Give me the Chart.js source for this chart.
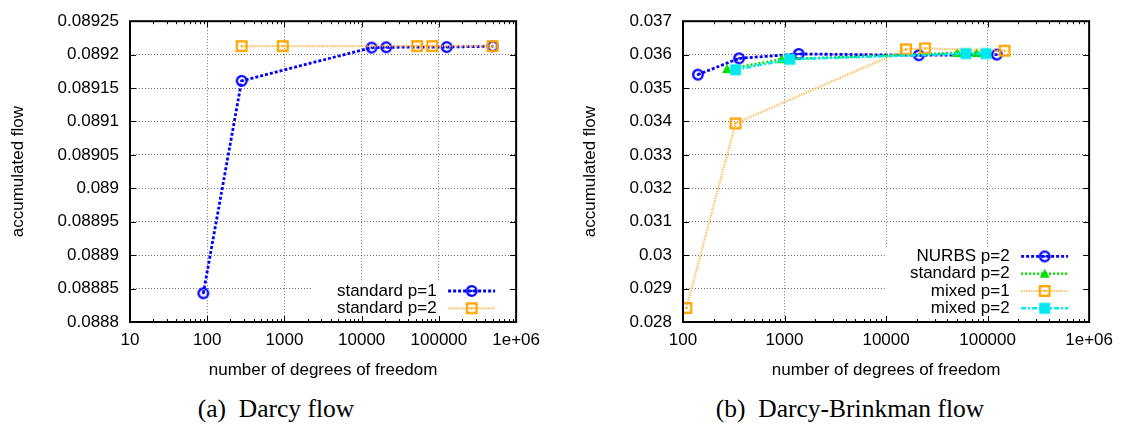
<!DOCTYPE html>
<html>
<head>
<meta charset="utf-8">
<script src="https://cdn.jsdelivr.net/npm/chart.js@4.4.1/dist/chart.umd.min.js"></script>
<style>
  html, body { margin: 0; padding: 0; background: #fff; }
  body { width: 1127px; height: 425px; position: relative; overflow: hidden; }
  canvas { position: absolute; top: 0; }
  .caption {
    position: absolute; top: 396px;
    font-family: "Liberation Serif", "Times New Roman", serif;
    font-size: 25.5px; line-height: 25px;
    text-align: center; white-space: nowrap; color: #000;
  }
</style>
</head>
<body>
<canvas id="darcyChart" width="548" height="385" style="left:0px"></canvas>
<canvas id="brinkmanChart" width="561" height="385" style="left:560px"></canvas>
<div class="caption" style="left:176px;width:200px">(a)&nbsp; Darcy flow</div>
<div class="caption" style="left:700px;width:300px">(b)&nbsp; Darcy-Brinkman flow</div>

<script>
// axes
const xTicksDarcy = [10, 100, 1000, 10000, 100000, 1000000];
const xLabelsDarcy = ["10", "100", "1000", "10000", "100000", "1e+06"];
const yTicksDarcy = [0.0888, 0.08885, 0.0889, 0.08895, 0.089, 0.08905, 0.0891, 0.08915, 0.0892, 0.08925];

const xTicksBrinkman = [100, 1000, 10000, 100000, 1000000];
const xLabelsBrinkman = ["100", "1000", "10000", "100000", "1e+06"];
const yTicksBrinkman = [0.028, 0.029, 0.03, 0.031, 0.032, 0.033, 0.034, 0.035, 0.036, 0.037];

// (a) Darcy flow
const stdP1Dofs = [89, 279, 13430, 20770, 126000, 496000];
const stdP1Flow = [0.088843, 0.0891608, 0.0892105, 0.089211, 0.0892113, 0.0892125];
const stdP2Dofs = [279, 951, 52200, 81900, 496000];
const stdP2Flow = [0.0892127, 0.0892128, 0.0892128, 0.0892128, 0.0892128];

// (b) Darcy-Brinkman flow
const nurbsDofs = [140, 357, 1380, 21000, 123000];
const nurbsFlow = [0.0354, 0.035889, 0.03602, 0.03598, 0.036];
const stdBDofs = [271, 935, 50300, 78200];
const stdBFlow = [0.035567, 0.03586, 0.03605, 0.03605];
const mixedP1Dofs = [108, 329, 15700, 24200, 147000];
const mixedP1Flow = [0.02842, 0.033942, 0.03616, 0.036187, 0.036117];
const mixedP2Dofs = [329, 1125, 61100, 96200];
const mixedP2Flow = [0.035547, 0.03586, 0.03603, 0.03603];

const FONT = '"Liberation Sans", Arial, Helvetica, sans-serif';
Chart.defaults.font.family = FONT;
Chart.defaults.font.size = 17;
Chart.defaults.color = '#000';

const BLUE = '#0000ff';
const ORANGE = '#ffa500';
const GREEN = '#00e000';
const CYAN = '#00e8ee';

// gnuplot like point symbols
function makeMarker(kind, color) {
  const c = document.createElement('canvas');
  c.width = 14;
  c.height = 14;
  const g = c.getContext('2d');
  g.strokeStyle = color;
  g.fillStyle = color;
  g.lineWidth = 2.3;
  if (kind === 'circle') {
    g.beginPath();
    g.arc(7, 7, 4.8, 0, Math.PI * 2);
    g.stroke();
    g.fillRect(6, 6, 2, 2);
  } else if (kind === 'square') {
    g.strokeRect(2.2, 2.2, 9.6, 9.6);
    g.fillRect(6, 6, 2, 2);
  } else if (kind === 'triangle') {
    g.beginPath();
    g.moveTo(7, 2);
    g.lineTo(12, 11);
    g.lineTo(2, 11);
    g.closePath();
    g.fill();
  } else {
    g.fillRect(1.5, 1.5, 11, 11);
  }
  return c;
}

function points(dofs, flows) {
  return dofs.map((d, i) => ({ x: d, y: flows[i] }));
}

function series(label, dofs, flows, color, lineColor, dash, width, marker, order) {
  return {
    label: label,
    data: points(dofs, flows),
    borderColor: lineColor,
    borderWidth: width,
    borderDash: dash,
    pointStyle: makeMarker(marker, color),
    pointRadius: 5,
    fill: false,
    tension: 0,
    order: order
  };
}

// legend box, inward tick marks and frame, drawn after the data
const gnuplotFrame = {
  id: 'gnuplotFrame',
  afterDatasetsDraw(chart) {
    const ctx = chart.ctx;
    const a = chart.chartArea;
    const xs = chart.scales.x;
    const ys = chart.scales.y;
    const sets = chart.data.datasets;
    const n = sets.length;

    ctx.save();
    ctx.font = '17px ' + FONT;
    const textRight = a.right - 79.5;
    let maxW = 0;
    sets.forEach(ds => { maxW = Math.max(maxW, ctx.measureText(ds.label).width); });
    const rowY = i => a.bottom - 13.7 - (n - 1 - i) * 17.3;
    const boxLeft = textRight - maxW - 24;
    const boxTop = rowY(0) - 9;
    ctx.fillStyle = '#fff';
    ctx.fillRect(boxLeft, boxTop, a.right - boxLeft, a.bottom - boxTop);

    sets.forEach((ds, i) => {
      const y = rowY(i);
      ctx.fillStyle = '#000';
      ctx.textAlign = 'right';
      ctx.textBaseline = 'middle';
      ctx.fillText(ds.label, textRight, y);
      ctx.strokeStyle = ds.borderColor;
      ctx.lineWidth = ds.borderWidth;
      ctx.setLineDash(ds.borderDash);
      ctx.beginPath();
      ctx.moveTo(a.right - 68, y);
      ctx.lineTo(a.right - 21, y);
      ctx.stroke();
      ctx.setLineDash([]);
      const m = ds.pointStyle;
      ctx.drawImage(m, a.right - 44.5 - m.width / 2, y - m.height / 2);
    });

    ctx.strokeStyle = '#000';
    ctx.lineWidth = 1;
    ctx.beginPath();
    const e0 = Math.round(Math.log10(xs.min));
    const e1 = Math.round(Math.log10(xs.max));
    for (let e = e0; e < e1; e++) {
      for (let k = 1; k <= 9; k++) {
        const px = Math.round(xs.getPixelForValue(k * Math.pow(10, e))) + 0.5;
        const len = k === 1 ? 6 : 3;
        ctx.moveTo(px, a.bottom);
        ctx.lineTo(px, a.bottom - len);
        ctx.moveTo(px, a.top);
        ctx.lineTo(px, a.top + len);
      }
    }
    ys.ticks.forEach(t => {
      const py = Math.round(ys.getPixelForValue(t.value)) + 0.5;
      ctx.moveTo(a.left, py);
      ctx.lineTo(a.left + 6, py);
      ctx.moveTo(a.right, py);
      ctx.lineTo(a.right - 6, py);
    });
    ctx.stroke();

    ctx.lineWidth = 2;
    ctx.strokeRect(a.left, a.top, a.right - a.left, a.bottom - a.top);
    ctx.restore();
  }
};

function makeOptions(xTicks, xLabels, yTicks, yAxisWidth, yTitlePad) {
  const gridColor = 'rgba(0,0,0,0.55)';
  return {
    responsive: false,
    animation: false,
    layout: { padding: { top: 15, right: 28, bottom: 4, left: 0 } },
    plugins: { legend: { display: false }, tooltip: { enabled: false } },
    scales: {
      x: {
        type: 'logarithmic',
        min: xTicks[0],
        max: xTicks[xTicks.length - 1],
        afterBuildTicks: scale => { scale.ticks = xTicks.map(v => ({ value: v })); },
        afterFit: scale => { scale.height = 59; },
        ticks: {
          autoSkip: false,
          maxRotation: 0,
          padding: 8,
          callback: (value, index) => xLabels[index]
        },
        grid: { color: gridColor, lineWidth: 1, drawTicks: false },
        border: { display: false, dash: [1, 2] },
        title: { display: true, text: 'number of degrees of freedom', padding: { top: 4, bottom: 0 } }
      },
      y: {
        type: 'linear',
        min: yTicks[0],
        max: yTicks[yTicks.length - 1],
        afterBuildTicks: scale => { scale.ticks = yTicks.map(v => ({ value: v })); },
        afterFit: scale => { scale.width = yAxisWidth; },
        ticks: {
          padding: 11,
          callback: value => String(value)
        },
        grid: { color: gridColor, lineWidth: 1, drawTicks: false },
        border: { display: false, dash: [1, 2] },
        title: { display: true, text: 'accumulated flow', padding: { top: yTitlePad, bottom: 0 } }
      }
    }
  };
}

new Chart(document.getElementById('darcyChart'), {
  type: 'line',
  data: {
    datasets: [
      series('standard p=1', stdP1Dofs, stdP1Flow, BLUE, BLUE, [3, 2], 2.8, 'circle', 2),
      series('standard p=2', stdP2Dofs, stdP2Flow, ORANGE, 'rgba(255,175,60,0.75)', [1.5, 1], 2.2, 'square', 1)
    ]
  },
  options: makeOptions(xTicksDarcy, xLabelsDarcy, yTicksDarcy, 130, 8),
  plugins: [gnuplotFrame]
});

new Chart(document.getElementById('brinkmanChart'), {
  type: 'line',
  data: {
    datasets: [
      series('NURBS p=2', nurbsDofs, nurbsFlow, BLUE, BLUE, [3, 2], 2.8, 'circle', 4),
      series('standard p=2', stdBDofs, stdBFlow, GREEN, GREEN, [2, 2], 2.5, 'triangle', 3),
      series('mixed p=1', mixedP1Dofs, mixedP1Flow, ORANGE, 'rgba(255,175,60,0.75)', [1.5, 1], 2.2, 'square', 2),
      series('mixed p=2', mixedP2Dofs, mixedP2Flow, CYAN, CYAN, [5, 2, 2, 2], 2.5, 'box', 1)
    ]
  },
  options: makeOptions(xTicksBrinkman, xLabelsBrinkman, yTicksBrinkman, 123, 20),
  plugins: [gnuplotFrame]
});
</script>
</body>
</html>
